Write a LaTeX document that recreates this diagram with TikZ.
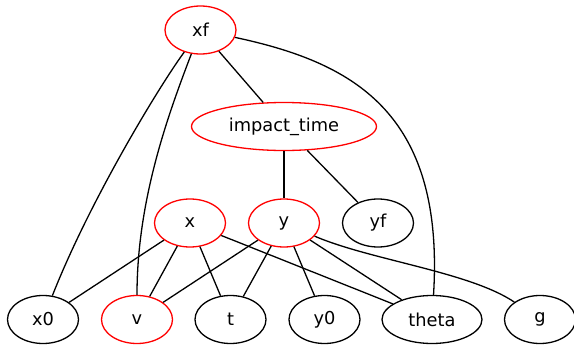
\documentclass[tikz,border=0pt]{standalone}
\usepackage{fontspec}
\setmainfont{DejaVu Sans}
\usetikzlibrary{shapes.geometric}
\begin{document}
\begin{tikzpicture}[x=1pt,y=-1pt,
  var/.style={ellipse,draw,line width=1.3pt,inner sep=0pt,
    minimum width=71pt,minimum height=48pt,font=\fontsize{17.8}{20}\selectfont},
  wide/.style={minimum width=#1},
  hot/.style={draw=red},
  link/.style={line width=1.3pt}]
\useasboundingbox (0,0) rectangle (574,348);
% top levels
\node[var,hot] (xf) at (200.5,30) {xf};
\node[var,hot,wide=185pt] (it) at (284,126.5) {impact\_time};
% middle row
\node[var,hot] (x) at (190,223) {x};
\node[var,hot] (y) at (284,223) {y};
\node[var] (yf) at (378,223) {yf};
% bottom row
\node[var] (x0) at (43,319.5) {x0};
\node[var,hot] (v) at (137,319.5) {v};
\node[var] (t) at (230.5,319.5) {t};
\node[var] (y0) at (324.5,319.5) {y0};
\node[var,wide=100pt] (theta) at (432,319.5) {theta};
\node[var] (g) at (540,319.5) {g};
% edges
\draw[link] (xf) -- (it);
\draw[link] (xf) .. controls (160,85) and (90,200) .. (x0);
\draw[link] (xf) .. controls (168,115) and (137,200) .. (v);
\draw[link] (xf) .. controls (350,62) and (445,110) .. (theta);
\draw[link] (it) -- (y);
\draw[link] (it) -- (yf);
\draw[link] (x) -- (x0);
\draw[link] (x) -- (v);
\draw[link] (x) -- (t);
\draw[link] (x) -- (theta);
\draw[link] (y) -- (v);
\draw[link] (y) -- (t);
\draw[link] (y) -- (y0);
\draw[link] (y) -- (theta);
\draw[link] (y) .. controls (370,260) and (470,272) .. (g);
\end{tikzpicture}
\end{document}
